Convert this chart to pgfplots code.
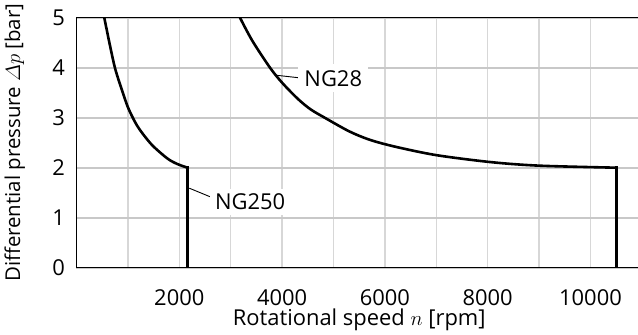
\documentclass[border=0pt]{standalone}
\usepackage{amsmath}
\usepackage{fontspec}
\setmainfont{Open Sans}
\usepackage{pgfplots}
\pgfplotsset{compat=1.18}
\definecolor{gridgray}{RGB}{215,215,215}
\definecolor{hgridgray}{RGB}{200,200,200}
\begin{document}
\fontsize{22}{26}\selectfont
\begin{tikzpicture}
\path[use as bounding box] (-76.5bp,-67.3bp) rectangle (561.5bp,267.7bp);
\begin{axis}[
  at={(0,0)}, anchor=south west,
  scale only axis, width=565.4bp, height=250bp,
  xmin=0, xmax=11000, ymin=0, ymax=5,
  scaled x ticks=false, scaled y ticks=false,
  xtick={1000,2000,...,10000},
  xticklabels={,2000,,4000,,6000,,8000,,10000},
  ytick={0,1,2,3,4,5},
  xmajorgrids=true, ymajorgrids=true,
  x grid style={draw=gridgray, line width=1.5bp},
  y grid style={draw=hgridgray, line width=1.8bp},
  major tick length=0pt,
  axis line style={line width=1.2bp, black},
  /pgf/number format/assume math mode=true,
  xticklabel style={anchor=north, inner sep=0pt, yshift=-21.3bp},
  yticklabel style={anchor=east, inner sep=0pt, xshift=-11.5bp},
  xlabel={Rotational speed $n$ [rpm]},
  ylabel={Differential pressure $\varDelta p$ [bar]},
  xlabel style={at={(axis description cs:0.5,-0.233)}, anchor=base, inner sep=0pt},
  ylabel style={at={(axis description cs:-0.0995,0.5)}, anchor=base, inner sep=0pt, font=\fontsize{20.5}{24}\selectfont},
]
% NG250
\addplot[black, line width=2.6bp, smooth] coordinates {
  (541,5) (640,4.5) (755,3.97) (911,3.47) (1000,3.21) (1090,3.01) (1180,2.84) (1288,2.68) (1482,2.44) (1774,2.18) (1970,2.07) (2163,2.0)
};
\addplot[black, line width=2.6bp, line cap=rect] coordinates {(2163,2.0) (2163,0)};
% NG28
\addplot[black, line width=2.6bp, smooth] coordinates {
  (3181,5) (3420,4.54) (3765,4.0) (4000,3.70) (4303,3.38) (4550,3.17) (4829,3.0) (5300,2.73) (5700,2.56) (6200,2.42) (7008,2.25) (8078,2.11) (9018,2.04) (10510,2.0)
};
\addplot[black, line width=2.6bp, line cap=rect] coordinates {(10510,2.0) (10510,0)};
% labels
\draw[black, line width=0.9bp] (axis cs:3880,3.85) -- (axis cs:4315,3.80);
\node[anchor=west, fill=white, inner sep=6bp] at (axis cs:4315,3.79) {NG28};
\draw[black, line width=0.9bp] (axis cs:2195,1.59) -- (axis cs:2597,1.42);
\node[anchor=west, fill=white, inner sep=5bp] at (axis cs:2597,1.32) {NG250};
\end{axis}
\end{tikzpicture}
\end{document}
